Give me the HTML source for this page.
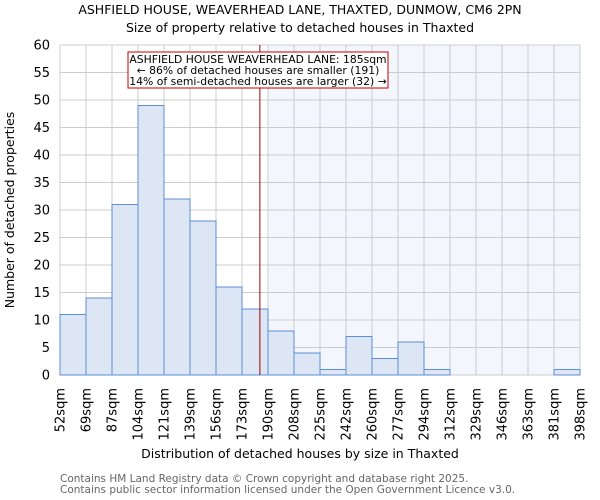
<!DOCTYPE html>
<html><head><meta charset="utf-8"><style>
body{margin:0;background:#fff;font-family:"DejaVu Sans","Liberation Sans",sans-serif}
svg{display:block}
</style></head><body>
<svg id="c" width="600" height="500" xmlns="http://www.w3.org/2000/svg" font-family="DejaVu Sans, Liberation Sans, sans-serif">
<text x="300" y="14" text-anchor="middle" font-size="12.5">ASHFIELD HOUSE, WEAVERHEAD LANE, THAXTED, DUNMOW, CM6 2PN</text>
<text x="300" y="32" text-anchor="middle" font-size="12.5">Size of property relative to detached houses in Thaxted</text>
<g id="grid"></g><g id="bars"></g><g id="axes"></g>
<text x="300" y="458" text-anchor="middle" font-size="12.5">Distribution of detached houses by size in Thaxted</text>
<text transform="translate(14,210) rotate(-90)" text-anchor="middle" font-size="12.5">Number of detached properties</text>
<text x="60" y="482" font-size="10.5" fill="#666">Contains HM Land Registry data © Crown copyright and database right 2025.</text>
<text x="60" y="493" font-size="10.5" fill="#666">Contains public sector information licensed under the Open Government Licence v3.0.</text>
</svg>
<script>
const categories=["52sqm","69sqm","87sqm","104sqm","121sqm","139sqm","156sqm","173sqm","190sqm","208sqm","225sqm","242sqm","260sqm","277sqm","294sqm","312sqm","329sqm","346sqm","363sqm","381sqm","398sqm"];
const values=[11,14,31,49,32,28,16,12,8,4,1,7,3,6,1,0,0,0,0,1];
const yTicks=[0,5,10,15,20,25,30,35,40,45,50,55,60];
const propertySize=185;
const xMin=52,xMax=398;
const L=60,R=580,T=45,B=375,yMax=60;
const NS="http://www.w3.org/2000/svg";
const y=v=>B-(v/yMax)*(B-T);
const bw=(R-L)/values.length;
const xb=i=>L+i*bw;
const xs=s=>L+(s-xMin)/(xMax-xMin)*(R-L);
function mk(p,t,a){const e=document.createElementNS(NS,t);for(const k in a)e.setAttribute(k,a[k]);p.appendChild(e);return e;}
const grid=document.getElementById('grid'),bars=document.getElementById('bars'),axes=document.getElementById('axes');
const lx=xs(propertySize);
const shadeStart=xb(Math.ceil((lx-L)/bw));
const sh=mk(grid,'rect',{x:shadeStart,y:T,width:R-shadeStart,height:B-T,fill:'#f3f6fc'});


yTicks.forEach(v=>{
const l=mk(grid,'line',{x1:L,x2:R,y1:y(v),y2:y(v),stroke:'#ccc','stroke-width':1});


const t=mk(axes,'text',{x:L-10,y:y(v)+4.5,'text-anchor':'end','font-size':13});
t.textContent=v;


});
categories.forEach((c,i)=>{
const x=xb(i);
const l=mk(grid,'line',{x1:x,x2:x,y1:T,y2:B,stroke:'#ccc','stroke-width':1});


const t=mk(axes,'text',{transform:`translate(${x+4.5},388) rotate(-90)`,'text-anchor':'end','font-size':13});
t.textContent=c;


});
values.forEach((v,i)=>{
const r=mk(bars,'rect',{x:xb(i),y:y(v),width:bw,height:B-y(v),fill:'#dce6f4',stroke:'#5b8fd6','stroke-width':1});


});
const ln=mk(axes,'line',{x1:lx,x2:lx,y1:T,y2:B,stroke:'#a00000','stroke-width':1});


const g=mk(axes,'g',{});


mk(g,'rect',{x:128,y:52,width:260,height:36,fill:'#fff',stroke:'#c00000','stroke-width':1});
["ASHFIELD HOUSE WEAVERHEAD LANE: 185sqm","← 86% of detached houses are smaller (191)","14% of semi-detached houses are larger (32) →"].forEach((s,i)=>{
const t=mk(g,'text',{x:258,y:63+i*11,'text-anchor':'middle','font-size':10.8});
t.textContent=s;


});
</script>
</body></html>
